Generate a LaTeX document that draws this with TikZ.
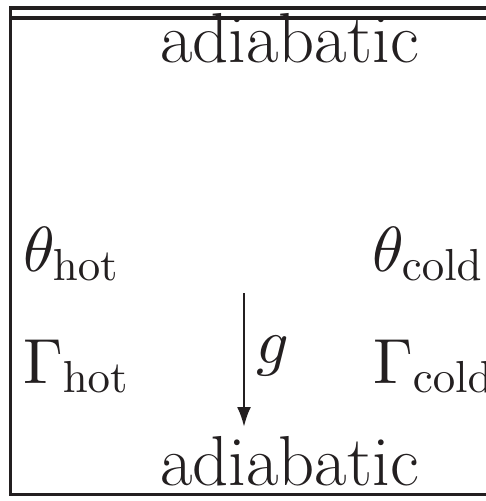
\RequirePackage{fix-cm}
\documentclass[tikz,border=0pt]{standalone}
\usetikzlibrary{arrows.meta}
\DeclareFontShape{OT1}{cmr}{m}{n}{<->cmr10}{}
\DeclareFontShape{OML}{cmm}{m}{it}{<->cmmi10}{\skewchar\font127 }
\DeclareMathSizes{64}{64}{45}{32}
\definecolor{ink}{HTML}{231F20}
\begin{document}
\begin{tikzpicture}[x=1bp,y=-1bp,
  wall/.style={line width=3.3bp,ink},
  lbl/.style={anchor=base west,inner sep=0pt,outer sep=0pt,text=ink,font=\fontsize{64}{70}\selectfont},
  word/.style={anchor=base west,inner sep=0pt,outer sep=0pt,text=ink,font=\fontsize{71}{78}\selectfont},
  gravity/.style={line width=2.6bp,ink,-{Latex[length=20bp,width=14bp]}}]
\useasboundingbox (0,0) rectangle (486,501);
\clip (0,0) rectangle (486,501);
% walls
\draw[wall] (9,8) -- (490,8);
\draw[wall] (10.5,18) -- (490,18);
\draw[wall] (10.5,6.5) -- (10.5,496);
\draw[wall] (9,494.5) -- (490,494.5);
% labels
\node[word] (top) at (160,63) {adiabatic};
\node[word] (bot) at (160,485) {adiabatic};
\node[lbl] (thot) at (23,271) {$\theta_{\mathrm{hot}}$};
\node[lbl] (ghot) at (23,383) {$\Gamma_{\mathrm{hot}}$};
\node[lbl] (tcold) at (372,271) {$\theta_{\mathrm{cold}}$};
\node[lbl] (gcold) at (373,383) {$\Gamma_{\mathrm{cold}}$};
\node[lbl] (g) at (256,363) {$g$};
% gravity arrow
\coordinate (a1) at (244,293);
\coordinate (a2) at (244,427);
\draw[gravity] (a1) -- (a2);
\end{tikzpicture}
\end{document}
